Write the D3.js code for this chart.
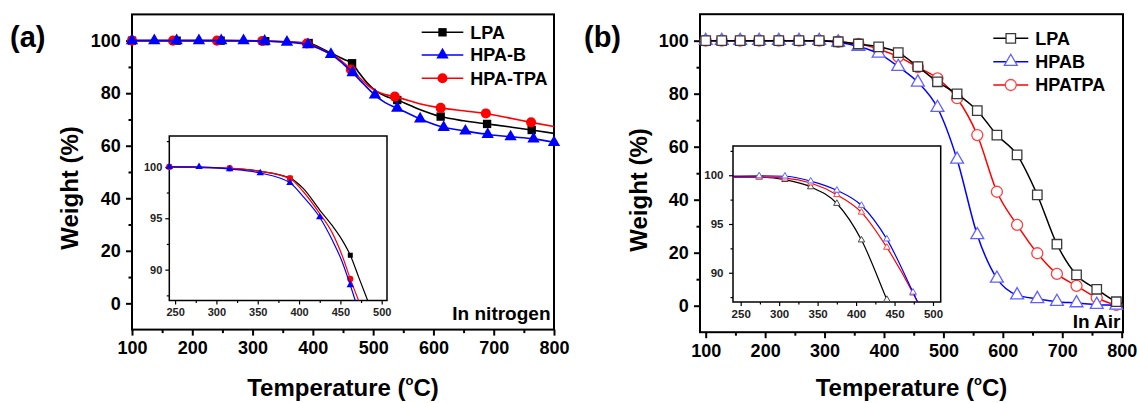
<!DOCTYPE html>
<html>
<head>
<meta charset="utf-8">
<script src="https://cdn.jsdelivr.net/npm/d3@7"></script>
<style>
body { margin: 0; background: #fff; }
svg { display: block; }
</style>
</head>
<body>
<svg id="chart" width="1137" height="403"></svg>
<script>
// tick values
var tempTicks = [100, 200, 300, 400, 500, 600, 700, 800];
var tempMinor = [150, 250, 350, 450, 550, 650, 750];
var weightTicks = [0, 20, 40, 60, 80, 100];
var weightMinor = [10, 30, 50, 70, 90];
var insetTempTicks = [250, 300, 350, 400, 450, 500];
var insetTempMinor = [275, 325, 375, 425, 475];
var insetWeightTicks = [90, 95, 100];
var insetWeightMinor = [87.5, 92.5, 97.5, 102.5];

var namesN = ["LPA", "HPA-B", "HPA-TPA"];
var namesAir = ["LPA", "HPAB", "HPATPA"];

// (a) in nitrogen: marked points [T, wt%] and extra curve points
var lpaN = [[100,100],[174,100],[247,100],[321,99.8],[393,99.1],[465,91.4],[540,77.4],[612,71.1],[689,68.3],[763,66]];
var lpaNx = [[408,97.8],[425,95.8],[440,94.2],[452,92.8],[475,88.3],[490,84],[505,80.8],[520,78.9],[575,74],[650,69.5],[725,67.2],[800,64.7]];
var hpbN = [[100,100],[137,100],[174,100],[211,100],[248,100],[285,100],[320,99.8],[357,99.4],[392,98.5],[430,94.8],[466,87.8],[503,79.3],[540,74.3],[578,70.2],[617,67],[653,65.6],[690,64.3],[728,63.4],[766,62.6],[800,61.3]];
var hpbNx = [[410,97],[445,92.2],[452,90.8],[485,83.3],[520,76.4]];
var tpaN = [[100,100],[168,100],[241,100],[316,99.9],[390,98.9],[463,89],[536,78.7],[612,74.4],[687,72.3],[762,68.9]];
var tpaNx = [[350,99.6],[408,97.4],[425,95.4],[440,93.6],[452,91.4],[478,85.8],[492,82.8],[508,80.5],[520,79.5],[575,76.1],[650,73.3],[725,70.6],[800,67.3]];

// (a) inset
var lpaNi = [[243,100],[316,99.85],[389,98.9],[462,91.4]];
var lpaNix = [[350,99.6],[405,97.9],[425,95.8],[440,94.3],[452,92.9],[472,89.3],[483,87],[495,84.5]];
var hpbNi = [[243,100],[279,100],[316,99.78],[353,99.4],[389,98.45],[425,95.1],[462,88.5]];
var hpbNix = [[405,97.1],[440,92.9],[452,90.8],[468,87],[478,84.8]];
var tpaNi = [[243,100],[316,99.87],[389,98.87],[462,89.1]];
var tpaNix = [[350,99.6],[405,97.6],[425,95.45],[440,93.6],[452,91.4],[472,87],[482,84.9]];

// (b) in air
var airTemps = [100,127,158,190,223,257,291,323,357,391,424,457,490,523,557,590,624,658,691,724,758,791];
var lpaAir = [100,100,100,100,100,100,100,99.6,98.75,97.7,95.5,90.2,84.5,79.9,73.6,64.4,56.9,41.8,23.2,11.6,6.2,1.5];
var hpbAir = [100,100,100,100,100,100,100,99.4,97.8,95.2,90.2,84.3,74.7,55.2,26.7,10.3,4,2.6,1.5,1,0.4,0.1];
var tpaAir = [100,100,100,100,100,100,100,99.6,98.8,96.8,94,90,85.8,78.3,64.4,43,30.5,19.8,12,7.5,3,0.3];
var lpaAirx = [[800,0.8]];
var hpbAirx = [[800,0]];
var tpaAirx = [[800,0.1]];

// (b) inset
var airInsetTemps = [274,307.5,341,375,407,440,474];
var lpaAirI = [99.8,99.55,98.8,97.1,93.35,87.25];
var hpbAirI = [99.93,99.9,99.4,98.45,96.9,93.45,88];
var tpaAirI = [99.8,99.7,99.2,98,96.2,92.6,87.9];
var lpaAirIx = [[240,99.8],[450,85.4]];
var hpbAirIx = [[240,99.9],[485,86.2]];
var tpaAirIx = [[240,99.8],[486,86]];

(function() {
	"use strict";
	var FONT = '"Liberation Sans", Arial, Helvetica, sans-serif';
	var svg = d3.select("#chart")
		.attr("font-family", FONT)
		.attr("font-weight", "bold");

	function zip(ts, ws) {
		return ws.map(function(w, i) { return [ts[i], w]; });
	}
	function merge(marks, extra) {
		return marks.concat(extra).sort(function(a, b) { return a[0] - b[0]; });
	}
	function scales(box, xd, yd) {
		return {
			x: d3.scaleLinear().domain(xd).range([box.l, box.r]),
			y: d3.scaleLinear().domain(yd).range([box.b, box.t])
		};
	}

	function drawAxes(g, sc, box, o) {
		var bottom = g.append("g").attr("transform", "translate(0," + box.b + ")");
		bottom.append("g").call(d3.axisBottom(sc.x).tickValues(o.xMinor).tickSize(o.minor).tickFormat(""));
		bottom.append("g").call(d3.axisBottom(sc.x).tickValues(o.xMajor)
			.tickSize(o.major).tickPadding(o.xPad).tickFormat(d3.format("d")));
		var left = g.append("g").attr("transform", "translate(" + box.l + ",0)");
		left.append("g").call(d3.axisLeft(sc.y).tickValues(o.yMinor).tickSize(o.minor).tickFormat(""));
		left.append("g").call(d3.axisLeft(sc.y).tickValues(o.yMajor)
			.tickSize(o.major).tickPadding(o.yPad).tickFormat(d3.format("d")));
		[bottom, left].forEach(function(a) {
			a.selectAll(".domain").remove();
			a.selectAll("g").attr("font-size", o.fs).attr("font-family", FONT).attr("font-weight", "bold");
			a.selectAll("line").attr("stroke", "#000").attr("stroke-width", o.tw);
			a.selectAll("text").attr("fill", o.color);
		});
		g.append("rect")
			.attr("x", box.l).attr("y", box.t)
			.attr("width", box.r - box.l).attr("height", box.b - box.t)
			.attr("fill", "none").attr("stroke", "#000").attr("stroke-width", o.fw);
	}

	function clip(id, box) {
		svg.append("clipPath").attr("id", id).append("rect")
			.attr("x", box.l).attr("y", box.t)
			.attr("width", box.r - box.l).attr("height", box.b - box.t);
	}

	function drawSeries(g, sc, s, clipId) {
		var line = d3.line()
			.x(function(d) { return sc.x(d[0]); })
			.y(function(d) { return sc.y(d[1]); })
			.curve(d3.curveMonotoneX);
		g.append("path").datum(merge(s.marks, s.extra))
			.attr("clip-path", "url(#" + clipId + ")")
			.attr("fill", "none").attr("stroke", s.color).attr("stroke-width", s.lw)
			.attr("d", line);
		g.append("g").selectAll("path").data(s.marks).enter().append("path")
			.attr("transform", function(d) { return "translate(" + sc.x(d[0]) + "," + sc.y(d[1]) + ")"; })
			.attr("d", d3.symbol(s.symbol, s.size)())
			.attr("fill", s.fill).attr("stroke", s.stroke).attr("stroke-width", s.sw);
	}

	function legend(g, items, x0, x1, rows) {
		items.forEach(function(s, i) {
			var y = rows[i];
			g.append("line").attr("x1", x0).attr("x2", x1).attr("y1", y).attr("y2", y)
				.attr("stroke", s.color).attr("stroke-width", s.lw);
			g.append("path").attr("transform", "translate(" + ((x0 + x1) / 2) + "," + y + ")")
				.attr("d", d3.symbol(s.symbol, s.size)())
				.attr("fill", s.fill).attr("stroke", s.stroke).attr("stroke-width", s.sw);
			g.append("text").attr("x", x1 + 7).attr("y", y).attr("dy", "0.36em")
				.attr("font-size", 18).text(s.name);
		});
	}

	function titles(g, box, yx, yc, label, lx) {
		var t = g.append("text").attr("x", (box.l + box.r) / 2).attr("y", 396)
			.attr("text-anchor", "middle").attr("font-size", 24);
		t.append("tspan").text("Temperature (");
		t.append("tspan").attr("font-size", 13).attr("dy", -11).text("o");
		t.append("tspan").attr("dy", 11).text("C)");
		g.append("text").attr("transform", "translate(" + yx + "," + yc + ") rotate(-90)")
			.attr("text-anchor", "middle").attr("font-size", 24).text("Weight (%)");
		g.append("text").attr("x", lx).attr("y", 47).attr("font-size", 29).text(label);
	}

	var mainAxis = { xMajor: tempTicks, xMinor: tempMinor, yMajor: weightTicks, yMinor: weightMinor,
		major: 6, minor: 3.5, xPad: 6, yPad: 5.3, fs: 18, tw: 2, fw: 2, color: "#000" };

	// ---- panel (a)
	var boxA = { l: 132, r: 554, t: 14.4, b: 329.6 };
	var scA = scales(boxA, [100, 800], [-10, 110]);
	var gA = svg.append("g");
	clip("clipA", boxA);
	drawAxes(gA, scA, boxA, mainAxis);
	titles(gA, boxA, 78, 188, "(a)", 10);

	var serA = [
		{ name: namesN[0], marks: lpaN, extra: lpaNx, color: "#000", symbol: d3.symbolSquare, size: 70, fill: "#000", stroke: "none", sw: 0, lw: 1.6 },
		{ name: namesN[1], marks: hpbN, extra: hpbNx, color: "#0000ff", symbol: d3.symbolTriangle, size: 66, fill: "#0000ff", stroke: "none", sw: 0, lw: 1.6 },
		{ name: namesN[2], marks: tpaN, extra: tpaNx, color: "#ff0000", symbol: d3.symbolCircle, size: 80, fill: "#ff0000", stroke: "none", sw: 0, lw: 1.6 }
	];
	[serA[0], serA[2], serA[1]].forEach(function(s) { drawSeries(gA, scA, s, "clipA"); });
	legend(gA, serA, 421.7, 463.3, [32.3, 55, 78.3]);
	gA.append("text").attr("x", 550.5).attr("y", 320).attr("text-anchor", "end")
		.attr("font-size", 19).text("In nitrogen");

	// inset (a)
	var boxAi = { l: 169.3, r: 387, t: 136, b: 300.5 };
	var scAi = scales(boxAi, [243, 506.4], [87, 103]);
	var gAi = svg.append("g");
	clip("clipAi", boxAi);
	gAi.append("rect").attr("x", boxAi.l).attr("y", boxAi.t)
		.attr("width", boxAi.r - boxAi.l).attr("height", boxAi.b - boxAi.t).attr("fill", "#fff");
	drawAxes(gAi, scAi, boxAi, { xMajor: insetTempTicks, xMinor: insetTempMinor,
		yMajor: insetWeightTicks, yMinor: insetWeightMinor,
		major: 4, minor: 2.5, xPad: 4, yPad: 3, fs: 11, tw: 1.2, fw: 1.5, color: "#222" });
	[
		{ marks: lpaNi, extra: lpaNix, color: "#000", symbol: d3.symbolSquare, size: 25, fill: "#000", stroke: "none", sw: 0, lw: 1.2 },
		{ marks: tpaNi, extra: tpaNix, color: "#ff0000", symbol: d3.symbolCircle, size: 30, fill: "#ff0000", stroke: "none", sw: 0, lw: 1.2 },
		{ marks: hpbNi, extra: hpbNix, color: "#0000ff", symbol: d3.symbolTriangle, size: 24, fill: "#0000ff", stroke: "none", sw: 0, lw: 1.2 }
	].forEach(function(s) { drawSeries(gAi, scAi, s, "clipAi"); });

	// ---- panel (b)
	var boxB = { l: 700, r: 1123, t: 14.2, b: 332.2 };
	var scB = scales(boxB, [90.4, 802.2], [-10, 110]);
	var gB = svg.append("g");
	clip("clipB", boxB);
	drawAxes(gB, scB, boxB, mainAxis);
	titles(gB, boxB, 647, 190, "(b)", 584);

	var serB = [
		{ name: namesAir[0], marks: zip(airTemps, lpaAir), extra: lpaAirx, color: "#000", symbol: d3.symbolSquare, size: 90, fill: "#fff", stroke: "#3a3a3a", sw: 1.3, lw: 1.5 },
		{ name: namesAir[1], marks: zip(airTemps, hpbAir), extra: hpbAirx, color: "#0000ff", symbol: d3.symbolTriangle, size: 72, fill: "#fff", stroke: "#6060ff", sw: 1.3, lw: 1.5 },
		{ name: namesAir[2], marks: zip(airTemps, tpaAir), extra: tpaAirx, color: "#ff0000", symbol: d3.symbolCircle, size: 95, fill: "#fff", stroke: "#ff4040", sw: 1.3, lw: 1.5 }
	];
	[serB[2], serB[1], serB[0]].forEach(function(s) { drawSeries(gB, scB, s, "clipB"); });
	legend(gB, serB, 993.3, 1028.3, [38.3, 61.7, 85]);
	gB.append("text").attr("x", 1120.5).attr("y", 327.5).attr("text-anchor", "end")
		.attr("font-size", 19).text("In Air");

	// inset (b)
	var boxBi = { l: 733, r: 940.7, t: 146, b: 302 };
	var scBi = scales(boxBi, [240, 510], [87, 103]);
	var gBi = svg.append("g");
	clip("clipBi", boxBi);
	gBi.append("rect").attr("x", boxBi.l).attr("y", boxBi.t)
		.attr("width", boxBi.r - boxBi.l).attr("height", boxBi.b - boxBi.t).attr("fill", "#fff");
	drawAxes(gBi, scBi, boxBi, { xMajor: insetTempTicks, xMinor: insetTempMinor,
		yMajor: insetWeightTicks, yMinor: insetWeightMinor,
		major: 4, minor: 2.5, xPad: 3.5, yPad: 5.5, fs: 11.5, tw: 1.2, fw: 1.5, color: "#222" });
	[
		{ marks: zip(airInsetTemps, lpaAirI), extra: lpaAirIx, color: "#000", stroke: "#444" },
		{ marks: zip(airInsetTemps, tpaAirI), extra: tpaAirIx, color: "#ff0000", stroke: "#ff4040" },
		{ marks: zip(airInsetTemps, hpbAirI), extra: hpbAirIx, color: "#0000ff", stroke: "#6060ff" }
	].forEach(function(s) {
		s.symbol = d3.symbolTriangle;
		s.size = 18;
		s.fill = "#fff";
		s.sw = 1;
		s.lw = 1.2;
		drawSeries(gBi, scBi, s, "clipBi");
	});
}());
</script>
</body>
</html>
